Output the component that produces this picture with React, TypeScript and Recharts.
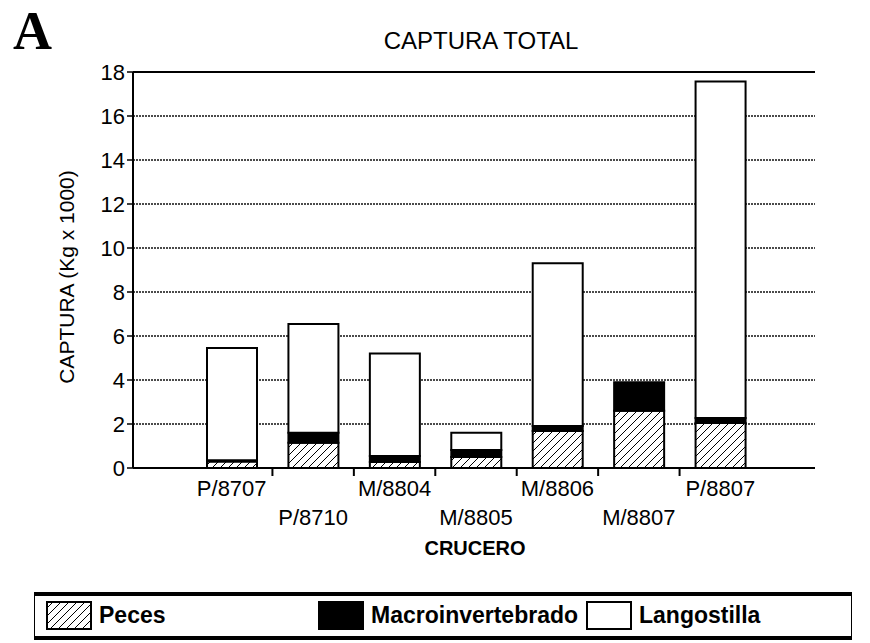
import React from "react";
import {
  Bar,
  BarChart,
  CartesianGrid,
  ReferenceLine,
  XAxis,
  YAxis,
} from "recharts";

const cruceros = ["P/8707", "P/8710", "M/8804", "M/8805", "M/8806", "M/8807", "P/8807"];
const peces = [0.3, 1.15, 0.27, 0.5, 1.68, 2.6, 2.05];
const macro = [0.05, 0.45, 0.28, 0.32, 0.23, 1.3, 0.22];
const langostilla = [5.1, 4.95, 4.65, 0.78, 7.4, 0, 15.3];
const yTicks = [0, 2, 4, 6, 8, 10, 12, 14, 16, 18];

const data = cruceros.map((c, i) => ({
  crucero: c,
  peces: peces[i],
  macro: macro[i],
  langostilla: langostilla[i],
}));

const FONT = '"Liberation Sans", Arial, Helvetica, sans-serif';
const BAND = 81.43;

function CruceroTick(props: any) {
  const { x, y, payload, index } = props;
  const row = index % 2 === 0 ? 28 : 57;
  return (
    <g>
      {index < cruceros.length - 1 && (
        <line x1={x + BAND / 2} x2={x + BAND / 2} y1={y} y2={y + 8} stroke="#000" strokeWidth={2} />
      )}
      <text x={x} y={y + row} textAnchor="middle" fontFamily={FONT} fontSize={22} fill="#000">
        {payload.value}
      </text>
    </g>
  );
}

function Swatch({ kind }: { kind: string }) {
  return (
    <svg width={46} height={29} style={{ display: "block" }}>
      <defs>
        <pattern id="hatchLegend" patternUnits="userSpaceOnUse" width={8} height={8}>
          <path d="M0,8 L8,0 M-2,2 L2,-2 M6,10 L10,6" stroke="#000" strokeWidth={1} />
        </pattern>
      </defs>
      <rect
        x={1}
        y={1}
        width={44}
        height={27}
        fill={kind === "peces" ? "url(#hatchLegend)" : kind === "macro" ? "#000" : "#fff"}
        stroke="#000"
        strokeWidth={2}
      />
    </svg>
  );
}

const legendItems = [
  { key: "peces", label: "Peces", left: 46 },
  { key: "macro", label: "Macroinvertebrado", left: 318 },
  { key: "langostilla", label: "Langostilla", left: 586 },
];

export default function App() {
  return (
    <div style={{ position: "absolute", left: 0, top: 0, width: 870, height: 643, background: "#fff" }}>
      <div
        style={{
          position: "absolute",
          left: 13,
          top: 0,
          lineHeight: "normal",
          fontFamily: '"Liberation Serif", "Times New Roman", serif',
          fontWeight: "bold",
          fontSize: 54,
        }}
      >
        A
      </div>
      <div
        style={{
          position: "absolute",
          left: 281,
          width: 400,
          top: 27,
          textAlign: "center",
          fontFamily: FONT,
          fontSize: 24,
        }}
      >
        CAPTURA TOTAL
      </div>
      <div
        style={{
          position: "absolute",
          left: 67 - 150,
          top: 277 - 12,
          width: 300,
          height: 24,
          lineHeight: "24px",
          textAlign: "center",
          transform: "rotate(-90deg)",
          fontFamily: FONT,
          fontSize: 21,
        }}
      >
        CAPTURA (Kg x 1000)
      </div>
      <BarChart
        width={870}
        height={643}
        data={data}
        margin={{ top: 72, right: 55, left: 73, bottom: 75 }}
      >
        <defs>
          <pattern id="hatch" patternUnits="userSpaceOnUse" width={8} height={8}>
            <rect width={8} height={8} fill="#fff" />
            <path d="M0,8 L8,0 M-2,2 L2,-2 M6,10 L10,6" stroke="#000" strokeWidth={1} />
          </pattern>
        </defs>
        <CartesianGrid vertical={false} stroke="#111" strokeWidth={1.5} strokeDasharray="2 1" />
        <XAxis
          dataKey="crucero"
          height={100}
          padding={{ left: 58, right: 54 }}
          axisLine={{ stroke: "#000", strokeWidth: 2 }}
          tickLine={false}
          tickSize={0}
          tickMargin={0}
          interval={0}
          tick={<CruceroTick />}
        />
        <YAxis
          width={60}
          domain={[0, 18]}
          ticks={yTicks}
          interval={0}
          axisLine={{ stroke: "#000", strokeWidth: 2 }}
          tickLine={{ stroke: "#000", strokeWidth: 1.5 }}
          tickSize={6}
          tickMargin={2}
          tick={{ fontFamily: FONT, fontSize: 22, fill: "#000" }}
        />
        <YAxis
          yAxisId="right"
          orientation="right"
          width={0}
          domain={[0, 18]}
          tick={false}
          tickLine={false}
          axisLine={{ stroke: "#000", strokeWidth: 2.5 }}
        />
        <ReferenceLine y={18} stroke="#000" strokeWidth={2} />
        <Bar dataKey="peces" stackId="a" barSize={50} fill="url(#hatch)" stroke="#000" strokeWidth={2} isAnimationActive={false} />
        <Bar dataKey="macro" stackId="a" barSize={50} fill="#000" stroke="#000" strokeWidth={2} isAnimationActive={false} />
        <Bar dataKey="langostilla" stackId="a" barSize={50} fill="#fff" stroke="#000" strokeWidth={2} isAnimationActive={false} />
      </BarChart>
      <div
        style={{
          position: "absolute",
          left: 0,
          width: 950,
          top: 537,
          textAlign: "center",
          fontFamily: FONT,
          fontWeight: "bold",
          fontSize: 20,
        }}
      >
        CRUCERO
      </div>
      <div
        style={{
          position: "absolute",
          left: 34,
          top: 592,
          width: 816,
          height: 40,
          borderTop: "4px solid #000",
          borderBottom: "4px solid #000",
          borderLeft: "1px solid #000",
          borderRight: "1px solid #000",
        }}
      />
      {legendItems.map((it) => (
        <div
          key={it.key}
          style={{
            position: "absolute",
            left: it.left,
            top: 601,
            display: "flex",
            alignItems: "center",
            gap: 7,
            fontFamily: FONT,
            fontWeight: "bold",
            fontSize: 23,
          }}
        >
          <Swatch kind={it.key} />
          <span>{it.label}</span>
        </div>
      ))}
    </div>
  );
}
